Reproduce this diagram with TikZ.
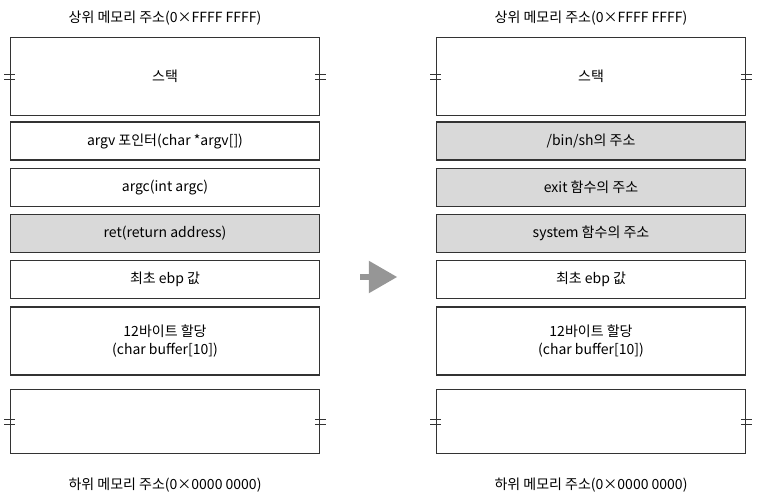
\documentclass[tikz,border=0pt]{standalone}
\usepackage{fontspec}
\setmainfont{Noto Sans CJK KR}
\usetikzlibrary{calc}
\usetikzlibrary{arrows}
\definecolor{cellgray}{RGB}{217,217,217}
\definecolor{arrowgray}{RGB}{150,150,150}
\tikzset{
  cell/.style = {rectangle, draw = black!80, line width = 0.8pt, minimum width = 232pt, inner sep = 0pt, align = center, font = \fontsize{10.5}{13}\selectfont},
  hot/.style = {cell, fill = cellgray},
  caption/.style = {font = \fontsize{10.5}{13}\selectfont},
  brk/.style = {draw = black!80, line width = 0.6pt}
}
\newcommand{\breakmark}[1]{%
  \draw[brk] ($(#1)+(-4pt,1.8pt)$) -- +(8pt,0);
  \draw[brk] ($(#1)+(-4pt,-1.8pt)$) -- +(8pt,0);}
\begin{document}
\begin{tikzpicture}[x=0.75pt, y=-0.75pt]
\useasboundingbox (0,0) rectangle (773,503);
% left column
\node[caption, name = lt] at (165,18) {상위 메모리 주소(0×FFFF FFFF)};
\node[cell, minimum height = 58pt, name = l1] at (165,76.5) {스택};
\node[cell, minimum height = 28.5pt, name = l2] at (165,141) {argv 포인터(char *argv[])};
\node[cell, minimum height = 28.5pt, name = l3] at (165,187.5) {argc(int argc)};
\node[hot, minimum height = 28.5pt, name = l4] at (165,233.5) {ret(return address)};
\node[cell, minimum height = 28.5pt, name = l5] at (165,279.5) {최초 ebp 값};
\node[cell, minimum height = 51pt, name = l6] at (165,341) {12바이트 할당\\(char buffer[10])};
\node[cell, minimum height = 47.5pt, name = l7] at (165,421.5) {};
\node[caption, name = lb] at (165,485) {하위 메모리 주소(0×0000 0000)};
% right column
\node[caption, name = rt] at (591,18) {상위 메모리 주소(0×FFFF FFFF)};
\node[cell, minimum height = 58pt, name = r1] at (591,76.5) {스택};
\node[hot, minimum height = 28.5pt, name = r2] at (591,141) {/bin/sh의 주소};
\node[hot, minimum height = 28.5pt, name = r3] at (591,187.5) {exit 함수의 주소};
\node[hot, minimum height = 28.5pt, name = r4] at (591,233.5) {system 함수의 주소};
\node[cell, minimum height = 28.5pt, name = r5] at (591,279.5) {최초 ebp 값};
\node[cell, minimum height = 51pt, name = r6] at (591,341) {12바이트 할당\\(char buffer[10])};
\node[cell, minimum height = 47.5pt, name = r7] at (591,421.5) {};
\node[caption, name = rb] at (591,485) {하위 메모리 주소(0×0000 0000)};
% break marks
\breakmark{l1.west} \breakmark{l1.east}
\breakmark{l7.west} \breakmark{l7.east}
\breakmark{r1.west} \breakmark{r1.east}
\breakmark{r7.west} \breakmark{r7.east}
% arrow
\coordinate (a0) at (360,277);
\coordinate (a1) at (397,277);
\draw[arrowgray, line width = 5pt, -triangle 60] (a0) -- (a1);
\end{tikzpicture}
\end{document}
